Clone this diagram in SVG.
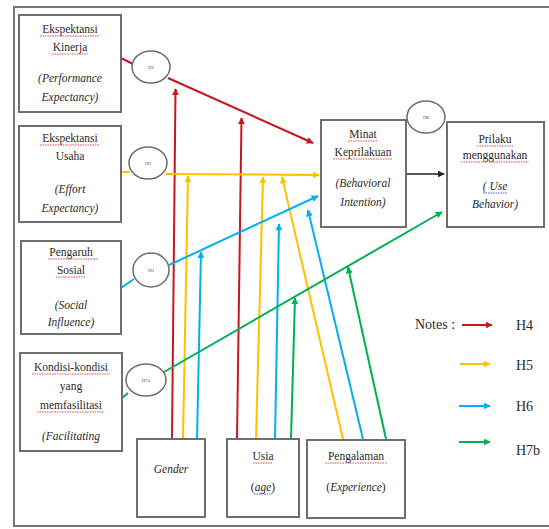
<svg xmlns="http://www.w3.org/2000/svg" width="549" height="529" viewBox="0 0 549 529" font-family="Liberation Serif, Times New Roman, serif">
  <style>
    .box { fill: #ffffff; stroke: #6e6e6e; stroke-width: 2; }
    .ell { fill: #ffffff; stroke: #6e6e6e; stroke-width: 1.5; }
    .t { font-size: 11.5px; fill: #2a2a2a; text-anchor: middle; }
    .i { font-style: italic; }
    .h { font-size: 5px; fill: #444; text-anchor: middle; }
    .lg { font-size: 14px; fill: #2a2a2a; }
    .sp { stroke: #e04848; stroke-width: 1; stroke-dasharray: 1.5 1; fill: none; }
    .gr { stroke: #4a5ad8; stroke-width: 1; stroke-dasharray: 1.5 1; fill: none; }
    .r { stroke: #c8161d; stroke-width: 2; fill: none; }
    .y { stroke: #ffc000; stroke-width: 2; fill: none; }
    .b { stroke: #00b0f0; stroke-width: 2; fill: none; }
    .g { stroke: #00b050; stroke-width: 2; fill: none; }
    .k { stroke: #222; stroke-width: 1.5; fill: none; }
  </style>
  <defs>
    <marker id="aR" viewBox="0 0 10 10" refX="9" refY="5" markerWidth="3.5" markerHeight="3.5" orient="auto"><path d="M0,0 L10,5 L0,10 z" fill="#c8161d"/></marker>
    <marker id="aY" viewBox="0 0 10 10" refX="9" refY="5" markerWidth="3.5" markerHeight="3.5" orient="auto"><path d="M0,0 L10,5 L0,10 z" fill="#ffc000"/></marker>
    <marker id="aB" viewBox="0 0 10 10" refX="9" refY="5" markerWidth="3.5" markerHeight="3.5" orient="auto"><path d="M0,0 L10,5 L0,10 z" fill="#00b0f0"/></marker>
    <marker id="aG" viewBox="0 0 10 10" refX="9" refY="5" markerWidth="3.5" markerHeight="3.5" orient="auto"><path d="M0,0 L10,5 L0,10 z" fill="#00b050"/></marker>
    <marker id="aK" viewBox="0 0 10 10" refX="9" refY="5" markerWidth="4.5" markerHeight="4.5" orient="auto"><path d="M0,0 L10,5 L0,10 z" fill="#222"/></marker>
  </defs>

  <rect width="549" height="529" fill="#ffffff"/>
  <!-- outer frame -->
  <rect x="14" y="7" width="545" height="519" fill="none" stroke="#777" stroke-width="2"/>

  <!-- connectors -->
  <g id="connectors">
    <!-- H4 (red) -->
    <line class="r" x1="121" y1="58" x2="133" y2="64"/>
    <line class="r" x1="168" y1="78" x2="313" y2="143" marker-end="url(#aR)"/>
    <line class="r" x1="172" y1="439" x2="175.5" y2="89" marker-end="url(#aR)"/>
    <line class="r" x1="237" y1="439" x2="241.5" y2="118" marker-end="url(#aR)"/>
    <!-- H5 (yellow) -->
    <line class="y" x1="121" y1="172" x2="130" y2="172"/>
    <line class="y" x1="166" y1="174" x2="319" y2="175" marker-end="url(#aY)"/>
    <line class="y" x1="183" y1="439" x2="188" y2="176" marker-end="url(#aY)"/>
    <line class="y" x1="256" y1="439" x2="263" y2="177" marker-end="url(#aY)"/>
    <line class="y" x1="343" y1="439" x2="282" y2="177" marker-end="url(#aY)"/>
    <!-- H6 (blue) -->
    <line class="b" x1="121" y1="288" x2="134" y2="279"/>
    <line class="b" x1="169" y1="265" x2="318" y2="196" marker-end="url(#aB)"/>
    <line class="b" x1="197" y1="439" x2="201" y2="252" marker-end="url(#aB)"/>
    <line class="b" x1="275" y1="439" x2="279" y2="224" marker-end="url(#aB)"/>
    <line class="b" x1="363" y1="439" x2="308" y2="210" marker-end="url(#aB)"/>
    <!-- H7 (green) -->
    <line class="g" x1="122" y1="398" x2="128" y2="393"/>
    <line class="g" x1="164" y1="372" x2="442" y2="212" marker-end="url(#aG)"/>
    <line class="g" x1="291" y1="439" x2="295" y2="298" marker-end="url(#aG)"/>
    <line class="g" x1="386" y1="439" x2="348" y2="267" marker-end="url(#aG)"/>
    <!-- H8 (black) -->
    <line class="k" x1="406" y1="174" x2="444" y2="174" marker-end="url(#aK)"/>
  </g>

  <!-- hypothesis ellipses -->
  <g id="h1"><ellipse class="ell" cx="151" cy="67" rx="19" ry="16"/><text class="h" x="151" y="69">H1</text></g>
  <g id="h2"><ellipse class="ell" cx="148" cy="163" rx="19" ry="16"/><text class="h" x="148" y="165">H2</text></g>
  <g id="h3"><ellipse class="ell" cx="151" cy="270" rx="18" ry="17"/><text class="h" x="151" y="272">H3</text></g>
  <g id="h7a"><ellipse class="ell" cx="146" cy="380" rx="20" ry="16"/><text class="h" x="146" y="382">H7a</text></g>
  <g id="h8"><ellipse class="ell" cx="426" cy="117" rx="19" ry="16"/><text class="h" x="426" y="119">H8</text></g>

  <!-- construct boxes -->
  <g id="performance-expectancy">
    <rect class="box" x="19" y="15" width="102" height="97"/>
    <text class="t" x="70" y="33">Ekspektansi</text>
    <text class="t" x="70" y="51">Kinerja</text>
    <text class="t i" x="70" y="82">(Performance</text>
    <text class="t i" x="70" y="101">Expectancy)</text>
    <line class="sp" x1="40" y1="36" x2="100" y2="36"/>
    <line class="sp" x1="52" y1="54" x2="88" y2="54"/>
  </g>
  <g id="effort-expectancy">
    <rect class="box" x="19" y="126" width="102" height="96"/>
    <text class="t" x="70" y="142">Ekspektansi</text>
    <text class="t" x="70" y="160">Usaha</text>
    <text class="t i" x="70" y="193">(Effort</text>
    <text class="t i" x="70" y="212">Expectancy)</text>
    <line class="sp" x1="40" y1="145" x2="100" y2="145"/>
  </g>
  <g id="social-influence">
    <rect class="box" x="21" y="241" width="100" height="93"/>
    <text class="t" x="71" y="256">Pengaruh</text>
    <text class="t" x="71" y="274">Sosial</text>
    <text class="t i" x="71" y="309">(Social</text>
    <text class="t i" x="71" y="326">Influence)</text>
    <line class="sp" x1="48" y1="259" x2="94" y2="259"/>
    <line class="gr" x1="94" y1="259" x2="99" y2="259"/>
    <line class="sp" x1="56" y1="277" x2="86" y2="277"/>
  </g>
  <g id="facilitating-conditions">
    <rect class="box" x="20" y="353" width="102" height="98"/>
    <text class="t" x="71" y="371">Kondisi-kondisi</text>
    <text class="t" x="71" y="390">yang</text>
    <text class="t" x="71" y="409">memfasilitasi</text>
    <text class="t i" x="71" y="440">(Facilitating</text>
    <line class="sp" x1="32" y1="374" x2="110" y2="374"/>
    <line class="sp" x1="37" y1="412" x2="104" y2="412"/>
  </g>
  <g id="behavioral-intention">
    <rect class="box" x="321" y="120" width="85" height="107"/>
    <text class="t" x="363" y="138">Minat</text>
    <text class="t" x="363" y="156">Keprilakuan</text>
    <text class="t i" x="363" y="187">(Behavioral</text>
    <text class="t i" x="363" y="206">Intention)</text>
    <line class="sp" x1="348" y1="141" x2="378" y2="141"/>
    <line class="sp" x1="333" y1="159" x2="393" y2="159"/>
  </g>
  <g id="use-behavior">
    <rect class="box" x="447" y="122" width="97" height="105"/>
    <text class="t" x="495" y="143">Prilaku</text>
    <text class="t" x="495" y="159">menggunakan</text>
    <text class="t i" x="495" y="190">( Use</text>
    <text class="t i" x="495" y="208">Behavior)</text>
    <line class="sp" x1="477" y1="146" x2="513" y2="146"/>
    <line class="sp" x1="461" y1="162" x2="529" y2="162"/>
    <line class="gr" x1="483" y1="193" x2="508" y2="193"/>
  </g>

  <!-- moderator boxes -->
  <g id="gender">
    <rect class="box" x="137" y="439" width="68" height="78"/>
    <text class="t i" x="171" y="473">Gender</text>
  </g>
  <g id="age">
    <rect class="box" x="227" y="439" width="72" height="78"/>
    <text class="t" x="263" y="460">Usia</text>
    <text class="t" x="263" y="491">(<tspan class="i">age</tspan>)</text>
    <line class="sp" x1="253" y1="463" x2="273" y2="463"/>
    <line class="gr" x1="254" y1="494" x2="272" y2="494"/>
  </g>
  <g id="experience">
    <rect class="box" x="307" y="440" width="98" height="78"/>
    <text class="t" x="356" y="460">Pengalaman</text>
    <text class="t" x="356" y="491">(<tspan class="i">Experience</tspan>)</text>
    <line class="sp" x1="325" y1="463" x2="387" y2="463"/>
  </g>

  <!-- legend -->
  <g id="legend">
    <text class="lg" x="415" y="329">Notes :</text>
    <line class="r" x1="462" y1="325" x2="492" y2="325" marker-end="url(#aR)"/>
    <text class="lg" x="516" y="330">H4</text>
    <line class="y" x1="460" y1="364" x2="490" y2="364" marker-end="url(#aY)"/>
    <text class="lg" x="516" y="370">H5</text>
    <line class="b" x1="459" y1="406" x2="490" y2="406" marker-end="url(#aB)"/>
    <text class="lg" x="516" y="411">H6</text>
    <line class="g" x1="459" y1="442" x2="490" y2="442" marker-end="url(#aG)"/>
    <text class="lg" x="516" y="455">H7b</text>
  </g>
</svg>
